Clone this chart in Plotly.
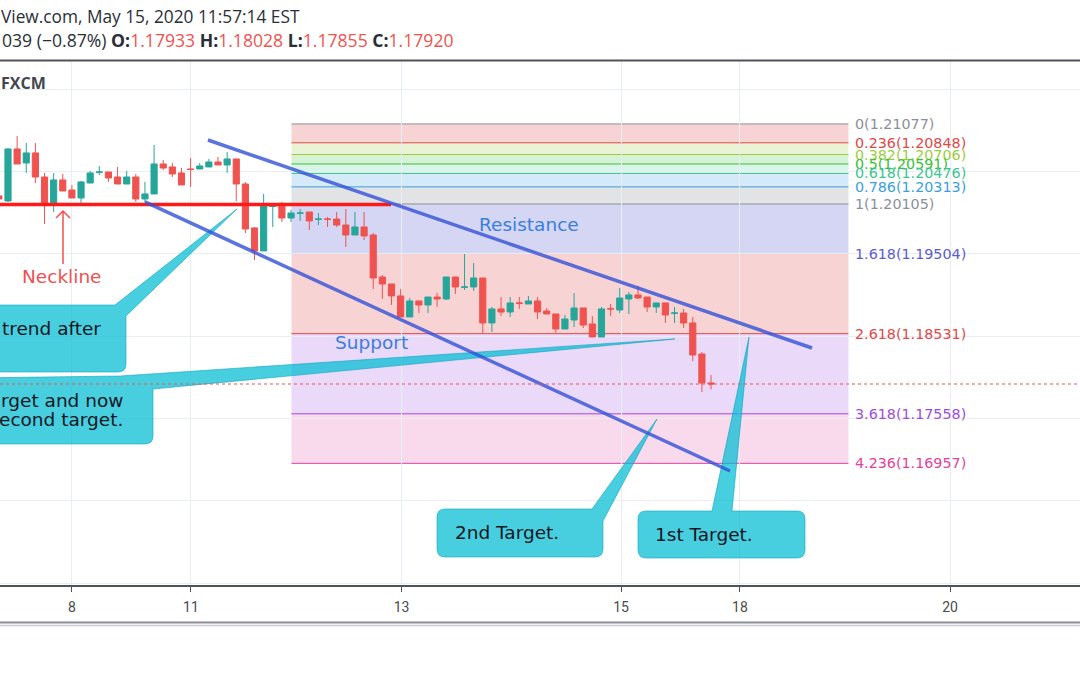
import plotly.graph_objects as go

# ---------------- data ----------------
# 2-hour candles, index 0 = first full candle at the left edge
candle_idx = list(range(-1, 78))
opens = [1.20203, 1.20142, 1.20773, 1.20603, 1.20725, 1.20433, 1.20118, 1.20397, 1.20275, 1.20178,
         1.20360, 1.20490, 1.20494, 1.20433, 1.20348, 1.20433, 1.20166, 1.20227, 1.20591, 1.20555,
         1.20482, 1.20530, 1.20530, 1.20555, 1.20615, 1.20579, 1.20652, 1.20348, 1.19814, 1.19535,
         1.20076, 1.20081, 1.19935, 1.19992, 1.20008, 1.19920, 1.19923, 1.19923, 1.19850, 1.19729,
         1.19826, 1.19729, 1.19219, 1.19134, 1.18989, 1.18734, 1.18928, 1.18879, 1.18976, 1.18952,
         1.19219, 1.19094, 1.19098, 1.19207, 1.18661, 1.18831, 1.18794, 1.18904, 1.18891, 1.18928,
         1.18806, 1.18770, 1.18588, 1.18697, 1.18843, 1.18649, 1.18491, 1.18835, 1.18819, 1.18952,
         1.19001, 1.18976, 1.18855, 1.18904, 1.18778, 1.18782, 1.18661, 1.18284, 1.17933]
highs = [1.20203, 1.20785, 1.20931, 1.20846, 1.20846, 1.20482, 1.20482, 1.20470, 1.20336, 1.20385,
         1.20506, 1.20567, 1.20494, 1.20555, 1.20506, 1.20470, 1.20373, 1.20822, 1.20640, 1.20603,
         1.20542, 1.20664, 1.20603, 1.20652, 1.20676, 1.20737, 1.20652, 1.20373, 1.19826, 1.20227,
         1.20093, 1.20130, 1.20033, 1.20045, 1.20008, 1.19996, 1.19948, 1.20008, 1.20045, 1.20008,
         1.20008, 1.19753, 1.19243, 1.19134, 1.19074, 1.18964, 1.18928, 1.18976, 1.19025, 1.19219,
         1.19219, 1.19498, 1.19389, 1.19207, 1.18855, 1.18976, 1.18976, 1.18976, 1.18989, 1.18976,
         1.18843, 1.18770, 1.18758, 1.19025, 1.18843, 1.18746, 1.18855, 1.18891, 1.19086, 1.19037,
         1.19110, 1.18976, 1.18904, 1.18904, 1.18855, 1.18831, 1.18734, 1.18309, 1.18028]
lows = [1.20166, 1.20130, 1.20591, 1.20482, 1.20360, 1.19863, 1.20008, 1.20263, 1.20178, 1.20118,
        1.20360, 1.20457, 1.20373, 1.20348, 1.20348, 1.20130, 1.20130, 1.20227, 1.20518, 1.20433,
        1.20336, 1.20312, 1.20530, 1.20555, 1.20579, 1.20482, 1.20142, 1.19753, 1.19426, 1.19535,
        1.19826, 1.19887, 1.19887, 1.19899, 1.19790, 1.19850, 1.19826, 1.19826, 1.19583, 1.19729,
        1.19668, 1.19074, 1.18952, 1.18879, 1.18734, 1.18734, 1.18782, 1.18782, 1.18855, 1.18940,
        1.19013, 1.19061, 1.19049, 1.18539, 1.18552, 1.18746, 1.18734, 1.18831, 1.18891, 1.18709,
        1.18770, 1.18527, 1.18588, 1.18612, 1.18600, 1.18491, 1.18491, 1.18746, 1.18782, 1.18770,
        1.18952, 1.18794, 1.18782, 1.18661, 1.18661, 1.18600, 1.18199, 1.17823, 1.17855]
closes = [1.20166, 1.20773, 1.20591, 1.20725, 1.20433, 1.20105, 1.20397, 1.20263, 1.20178, 1.20373,
          1.20482, 1.20494, 1.20421, 1.20348, 1.20433, 1.20166, 1.20227, 1.20591, 1.20542, 1.20470,
          1.20336, 1.20525, 1.20567, 1.20615, 1.20579, 1.20652, 1.20348, 1.19802, 1.19535, 1.20081,
          1.20081, 1.19935, 1.19996, 1.19996, 1.19899, 1.19923, 1.19920, 1.19850, 1.19729, 1.19826,
          1.19717, 1.19207, 1.19134, 1.18989, 1.18734, 1.18928, 1.18879, 1.18976, 1.18952, 1.19219,
          1.19098, 1.19098, 1.19207, 1.18661, 1.18831, 1.18794, 1.18904, 1.18900, 1.18928, 1.18794,
          1.18770, 1.18588, 1.18709, 1.18843, 1.18636, 1.18491, 1.18831, 1.18831, 1.18964, 1.19001,
          1.18964, 1.18855, 1.18904, 1.18758, 1.18782, 1.18661, 1.18272, 1.17932, 1.17920]

day_tick_pos = [7.0, 20.04, 43.1, 67.14, 80.17, 103.18]
day_tick_text = ["8", "11", "13", "15", "18", "20"]

fib_ratios = ["0", "0.236", "0.382", "0.5", "0.618", "0.786", "1", "1.618", "2.618", "3.618", "4.236"]
fib_prices = [1.21077, 1.20848, 1.20706, 1.20591, 1.20476, 1.20313, 1.20105, 1.19504, 1.18531, 1.17558, 1.16957]
fib_start, fib_end = 31.05, 92.05

neckline_price = 1.20100
neckline_end = 41.95
upper_channel = ([21.9, 88.06], [1.20882, 1.18357])
lower_channel = ([15.0, 79.08], [1.20130, 1.16864])

header_line1 = "View.com, May 15, 2020 11:57:14 EST"
change_text = "039 (\u22120.87%)"
ohlc_labels = ["O:", "H:", "L:", "C:"]
ohlc_values = ["1.17933", "1.18028", "1.17855", "1.17920"]
last_close = 1.17920

# ---------------- styling / layout helpers ----------------
W, H = 1080, 675
PLOT_TOP, PLOT_BOT = 61, 585
X_RANGE = [-0.876, 117.41]
Y_RANGE = [1.15480, 1.21841]
UP, DOWN = "#26a69a", "#ef5350"

fib_line_colors = ["#8c8f99", "#e04848", "#9ccc3c", "#38c038", "#3cc492", "#3a9ee0",
                   "#8c8f99", "#5a5ad8", "#e04848", "#a04ae0", "#e040a0"]
fib_fill_colors = [None, "rgba(224,72,72,0.24)", "rgba(160,204,64,0.22)", "rgba(48,192,48,0.20)",
                   "rgba(64,200,144,0.20)", "rgba(64,160,224,0.22)", "rgba(140,143,153,0.25)",
                   "rgba(80,80,208,0.24)", "rgba(224,72,72,0.24)", "rgba(160,80,224,0.22)",
                   "rgba(224,64,160,0.20)"]


def PX(px):
    return px / W


def PY(py):
    return (PLOT_BOT - py) / (PLOT_BOT - PLOT_TOP)


def P(x, y):
    return f"{PX(x):.5f},{PY(y):.5f}"


fig = go.Figure()
fig.add_trace(go.Candlestick(
    x=candle_idx, open=opens, high=highs, low=lows, close=closes,
    increasing=dict(line=dict(color=UP, width=1), fillcolor=UP),
    decreasing=dict(line=dict(color=DOWN, width=1), fillcolor=DOWN),
    whiskerwidth=0, hoverinfo="skip", showlegend=False,
))

shapes = []
annotations = []

# Fibonacci zones
for k in range(1, len(fib_prices)):
    shapes.append(dict(type="rect", xref="x", yref="y", x0=fib_start, x1=fib_end,
                       y0=fib_prices[k], y1=fib_prices[k - 1], fillcolor=fib_fill_colors[k],
                       line=dict(width=0), layer="below"))
for k, (r, p) in enumerate(zip(fib_ratios, fib_prices)):
    shapes.append(dict(type="line", xref="x", yref="y", x0=fib_start, x1=fib_end, y0=p, y1=p,
                       line=dict(color=fib_line_colors[k], width=1), layer="below"))
    annotations.append(dict(xref="x", yref="y", x=fib_end, y=p, xshift=5, xanchor="left",
                            yanchor="middle", showarrow=False, text=f"{r}({p:.5f})",
                            font=dict(family="DejaVu Sans", size=14.3, color=fib_line_colors[k])))

# Neckline
shapes.append(dict(type="line", xref="x", yref="y", x0=X_RANGE[0] - 1, x1=neckline_end,
                   y0=neckline_price, y1=neckline_price, line=dict(color="#ff1a1a", width=3.5),
                   layer="above"))
shapes.append(dict(type="path", xref="paper", yref="paper",
                   path=f"M {P(63,264)} L {P(63,211)} M {P(56,218)} L {P(63,211)} L {P(70,218)}",
                   line=dict(color="#f05050", width=1.5), layer="above"))

# Callouts
CALLOUT_FILL = "rgba(0,188,212,0.72)"
CALLOUT_LINE = dict(color="rgba(0,160,190,0.55)", width=1)
callout_paths = [
    f"M {P(-30,305)} L {P(115,305)} L {P(237,209)} L {P(126,316)} L {P(126,364)} "
    f"Q {P(126,372)} {P(118,372)} L {P(-30,372)} Z",
    f"M {P(-30,378)} L {P(120,376)} L {P(675,339)} L {P(153,389)} L {P(153,436)} "
    f"Q {P(153,444)} {P(145,444)} L {P(-30,444)} Z",
    f"M {P(445,509)} L {P(592,509)} L {P(657,419)} L {P(603,521)} L {P(603,549)} "
    f"Q {P(603,557)} {P(595,557)} L {P(445,557)} Q {P(437,557)} {P(437,549)} "
    f"L {P(437,517)} Q {P(437,509)} {P(445,509)} Z",
    f"M {P(646,511)} L {P(712,511)} L {P(749,337)} L {P(732,511)} L {P(797,511)} "
    f"Q {P(805,511)} {P(805,519)} L {P(805,550)} Q {P(805,558)} {P(797,558)} L {P(646,558)} "
    f"Q {P(638,558)} {P(638,550)} L {P(638,519)} Q {P(638,511)} {P(646,511)} Z",
]
for pth in callout_paths:
    shapes.append(dict(type="path", xref="paper", yref="paper", path=pth,
                       fillcolor=CALLOUT_FILL, line=CALLOUT_LINE, layer="above"))

# Channel lines
for xs, ys in (upper_channel, lower_channel):
    shapes.append(dict(type="line", xref="x", yref="y", x0=xs[0], x1=xs[1], y0=ys[0], y1=ys[1],
                       line=dict(color="rgba(50,80,215,0.8)", width=3.5), layer="above"))

# Current price dotted line
shapes.append(dict(type="line", xref="paper", yref="y", x0=0, x1=1, y0=last_close, y1=last_close,
                   line=dict(color=DOWN, width=1, dash="dot"), layer="above"))

# Header separator and bottom double line
shapes.append(dict(type="line", xref="paper", yref="paper", x0=0, x1=1, y0=PY(60.5), y1=PY(60.5),
                   line=dict(color="#50535e", width=2)))
shapes.append(dict(type="line", xref="paper", yref="paper", x0=0, x1=1, y0=PY(622.5), y1=PY(622.5),
                   line=dict(color="#8a8d96", width=2)))
shapes.append(dict(type="line", xref="paper", yref="paper", x0=0, x1=1, y0=PY(625.5), y1=PY(625.5),
                   line=dict(color="#c8cbd2", width=1.5)))

# Texts
TXT = "#131722"
DRAW_FONT = "DejaVu Sans"


def add_text(text, x, y, color, size, family=DRAW_FONT, anchor="left"):
    annotations.append(dict(xref="paper", yref="paper", x=PX(x), y=PY(y), xanchor=anchor,
                            yanchor="middle", showarrow=False, text=text,
                            font=dict(family=family, size=size, color=color)))


add_text(header_line1, -1, 16, "#2a2e39", 17.3, "Open Sans")
line2 = change_text + " " + " ".join(
    f"<b>{lab}</b><span style='color:{DOWN}'>{val}</span>" for lab, val in zip(ohlc_labels, ohlc_values))
add_text(line2, 0, 40, "#2a2e39", 17.6, "Open Sans")
add_text("<b>FXCM</b>", -1, 83, "#434651", 16, "Open Sans")

add_text("Neckline", 62, 276, "#f05050", 18.5, anchor="center")
add_text("Resistance", 529, 224, "#3a7fe0", 18.5, anchor="center")
add_text("Support", 371, 342, "#3a7fe0", 18.5, anchor="center")
add_text("trend after", 0, 328, TXT, 18.5)
add_text("rget and now", -1, 400, TXT, 18.5)
add_text("econd target.", -3, 419, TXT, 18.5)
add_text("2nd Target.", 453, 532, TXT, 18.5)
add_text("1st Target.", 653, 534, TXT, 18.5)

GRID = "#e9eef4"
fig.update_layout(
    width=W, height=H, autosize=False,
    margin=dict(l=0, r=0, t=PLOT_TOP, b=H - PLOT_BOT, pad=0),
    paper_bgcolor="white", plot_bgcolor="white",
    showlegend=False, hovermode=False,
    boxgap=0.1, boxgroupgap=0.25,
    shapes=shapes, annotations=annotations,
    xaxis=dict(range=X_RANGE, rangeslider=dict(visible=False), tickmode="array",
               tickvals=day_tick_pos, ticktext=day_tick_text, showgrid=True, gridcolor=GRID,
               gridwidth=1, zeroline=False, showline=True, linecolor="#50535e", linewidth=1.5,
               ticks="outside", ticklen=5, tickcolor="#50535e", ticklabelstandoff=3,
               tickfont=dict(family="Roboto", size=14, color="#4a4a4a"), fixedrange=True),
    yaxis=dict(range=Y_RANGE, tick0=1.165, dtick=0.01, showgrid=True, gridcolor=GRID,
               gridwidth=1, zeroline=False, showticklabels=False, showline=False, fixedrange=True),
)

fig.write_html("out.html", config={"displayModeBar": False},
               post_script="document.body.style.margin='0';document.body.style.padding='0';")
